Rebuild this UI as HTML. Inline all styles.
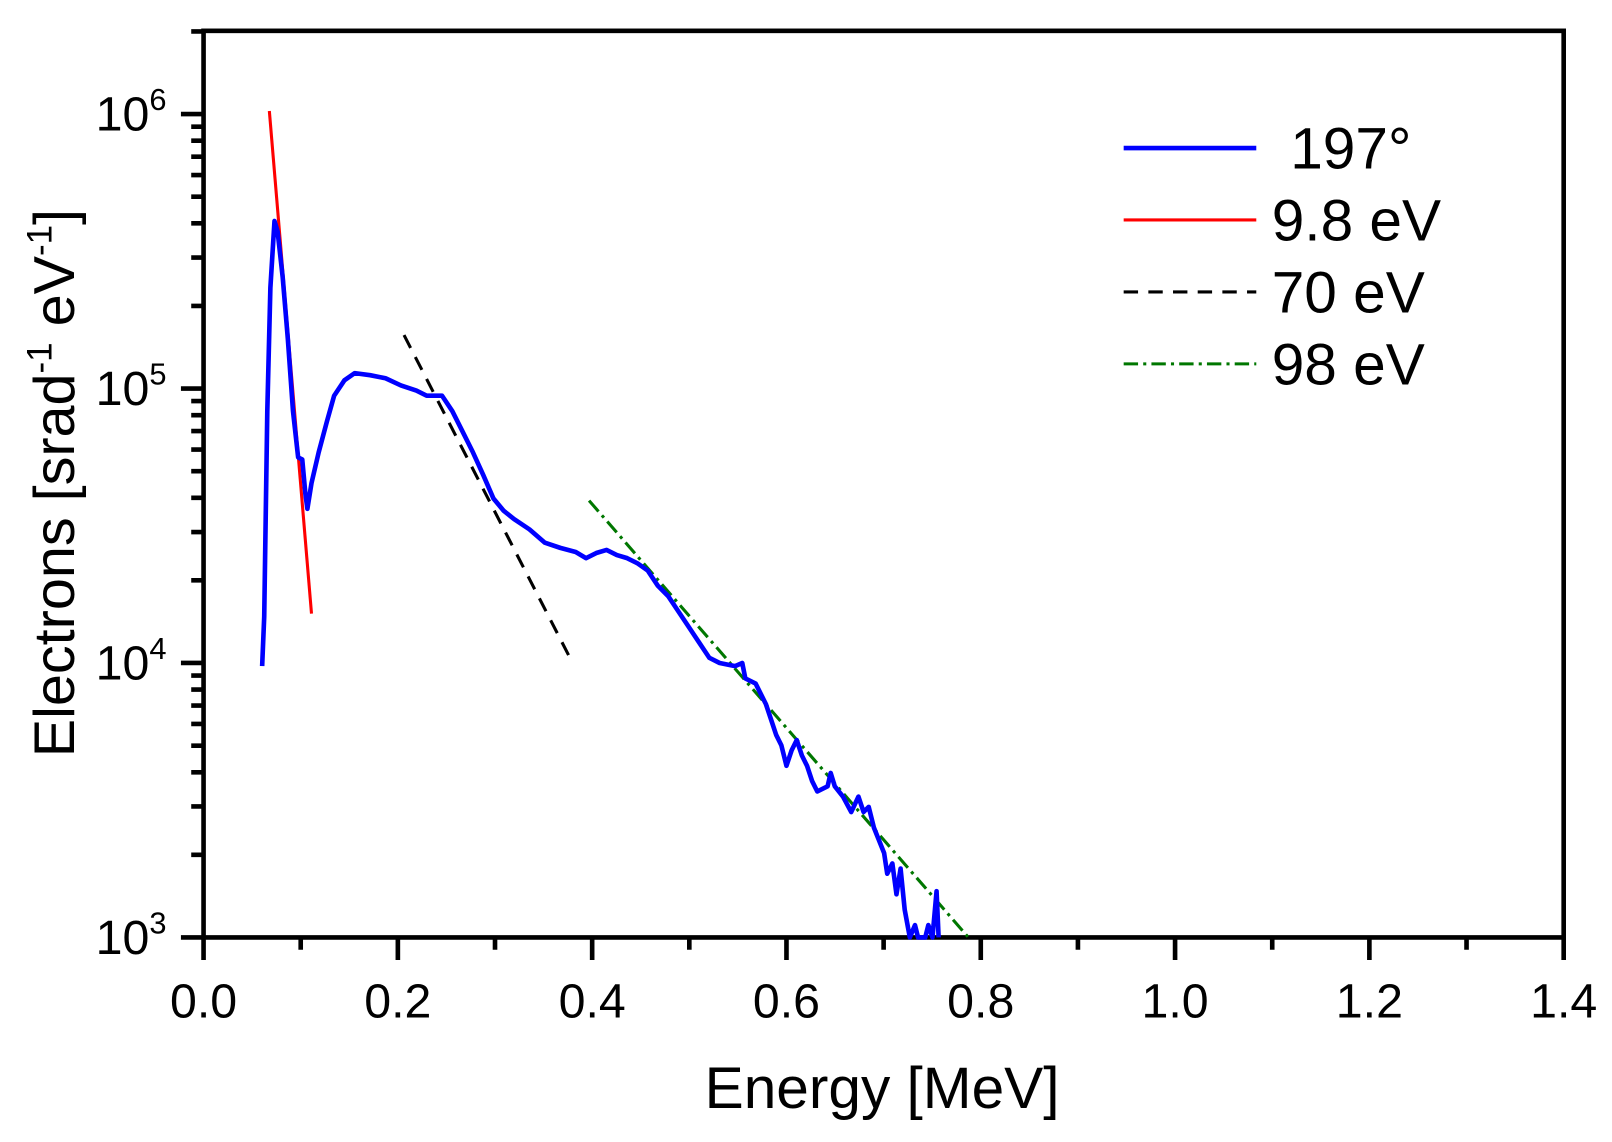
<!DOCTYPE html>
<html><head><meta charset="utf-8"><style>html,body{margin:0;padding:0;background:#fff}svg{display:block}</style></head>
<body>
<svg width="1612" height="1142" viewBox="0 0 1568 1111" preserveAspectRatio="none" xmlns="http://www.w3.org/2000/svg" font-family="Liberation Sans, Arial, sans-serif">
<rect width="1568" height="1111" fill="#fff"/>
<g stroke="#000" stroke-width="4.5" fill="none">
<rect x="198" y="30" width="1323" height="882"/>
<path d="M198 912V934M387 912V934M576 912V934M765 912V934M954 912V934M1143 912V934M1332 912V934M1521 912V934"/>
<path d="M292.5 912V924M481.5 912V924M670.5 912V924M859.5 912V924M1048.5 912V924M1237.5 912V924M1426.5 912V924"/>
<path d="M176 912H198M176 645H198M176 378H198M176 111H198"/>
<path d="M186 831.6H198M186 784.6H198M186 751.3H198M186 725.4H198M186 704.3H198M186 686.4H198M186 670.9H198M186 657.2H198"/>
<path d="M186 564.6H198M186 517.6H198M186 484.3H198M186 458.4H198M186 437.3H198M186 419.4H198M186 403.9H198M186 390.2H198"/>
<path d="M186 297.6H198M186 250.6H198M186 217.3H198M186 191.4H198M186 170.3H198M186 152.4H198M186 136.9H198M186 123.2H198"/>
<path d="M186 30.6H198"/>
</g>
<g font-size="47" fill="#000" text-anchor="middle">
<text x="198" y="990">0.0</text><text x="387" y="990">0.2</text><text x="576" y="990">0.4</text><text x="765" y="990">0.6</text><text x="954" y="990">0.8</text><text x="1143" y="990">1.0</text><text x="1332" y="990">1.2</text><text x="1521" y="990">1.4</text>
</g>
<g font-size="47" fill="#000" text-anchor="end">
<text x="162" y="928">10<tspan font-size="30" dy="-20">3</tspan></text>
<text x="162" y="661">10<tspan font-size="30" dy="-20">4</tspan></text>
<text x="162" y="394">10<tspan font-size="30" dy="-20">5</tspan></text>
<text x="162" y="127">10<tspan font-size="30" dy="-20">6</tspan></text>
</g>
<text x="858" y="1078" font-size="57" text-anchor="middle">Energy [MeV]</text>
<text transform="translate(72,470) rotate(-90)" font-size="56" text-anchor="middle">Electrons [srad<tspan font-size="34" dy="-22">-1</tspan><tspan dy="22"> eV</tspan><tspan font-size="34" dy="-22">-1</tspan><tspan dy="22">]</tspan></text>
<line x1="262" y1="108" x2="303" y2="597" stroke="#ff0000" stroke-width="3"/>
<line x1="393" y1="326" x2="557" y2="645" stroke="#000" stroke-width="3" stroke-dasharray="14,10"/>
<line x1="573" y1="487" x2="942" y2="912" stroke="#007700" stroke-width="3" stroke-dasharray="14,5,3,5"/>
<polyline fill="none" stroke="#0000ff" stroke-width="4.5" stroke-linejoin="round" points="255,648 257,600 260,400 263,280 267,215 270,225 275,270 280,330 285,400 290,445 294,447 297,480 299,495 303,470 310,440 318,410 325,385 335,370 345,363 360,365 375,368 390,375 405,380 415,385 430,385 440,400 450,420 460,440 470,462 480,485 490,497 500,505 515,515 530,528 545,533 560,537 570,543 580,538 590,535 600,540 610,543 620,548 630,555 640,570 650,580 660,595 670,610 680,625 690,640 700,645 715,648 722,645 725,660 735,665 745,685 750,700 755,715 760,725 765,745 770,730 775,720 780,735 785,745 790,760 795,770 805,765 808,752 812,765 820,775 828,790 835,775 840,790 845,785 850,805 856,820 860,830 863,850 868,840 872,870 876,845 880,885 885,912 890,900 893,912 900,912 903,900 907,912 911,867 913,912"/>
<line x1="1093" y1="144" x2="1222" y2="144" stroke="#0000ff" stroke-width="4.5"/>
<line x1="1093" y1="214" x2="1222" y2="214" stroke="#ff0000" stroke-width="3"/>
<line x1="1093" y1="284" x2="1222" y2="284" stroke="#000" stroke-width="3" stroke-dasharray="14,10"/>
<line x1="1093" y1="354" x2="1222" y2="354" stroke="#007700" stroke-width="3" stroke-dasharray="14,5,3,5"/>
<g font-size="57" fill="#000">
<text x="1255" y="164">197°</text>
<text x="1237" y="234">9.8 eV</text>
<text x="1237" y="304">70 eV</text>
<text x="1237" y="374">98 eV</text>
</g>
</svg>
</body></html>
